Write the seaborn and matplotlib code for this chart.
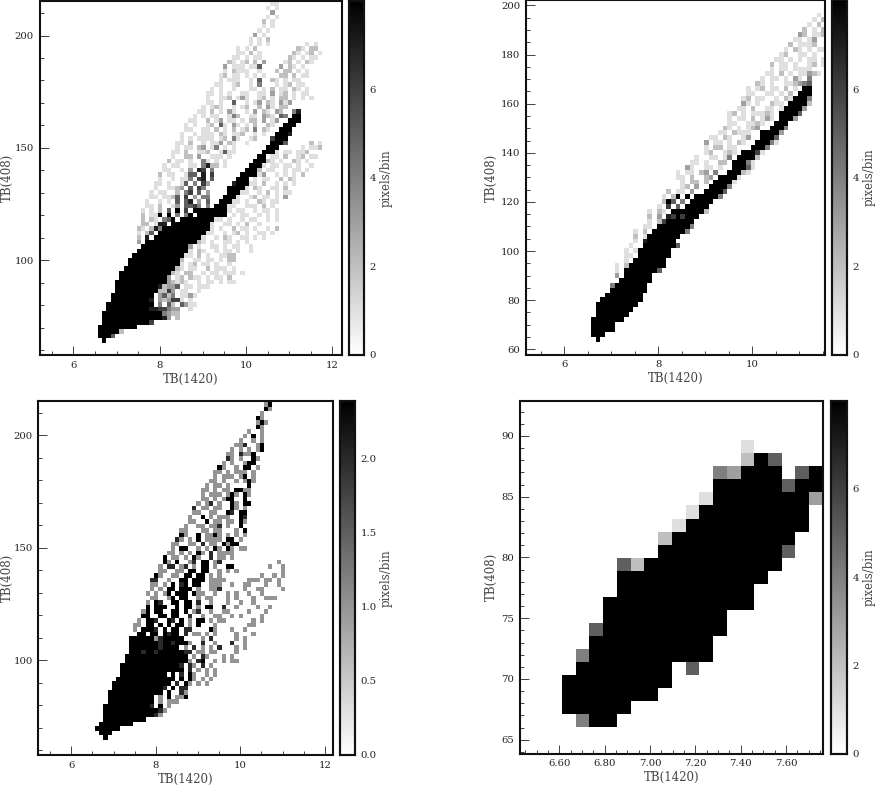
import numpy as np
import pandas as pd
import matplotlib
matplotlib.use("Agg")
import matplotlib.pyplot as plt
from matplotlib.ticker import MultipleLocator, FixedLocator
import seaborn as sns

# Histogram counts, one string per y bin from the bottom up: "first_column:levels|..."
p1_rows = [
"1:8","0:8885","0:888882","0:888888888","1:888888888886",
"1:888888888888887|16:3 2","1:88888888888888|15:4322","2:8888888888|12:7766433|21:1",
"2:8888888888|12:8|14:4 52 531|22:1","3:888888888|12:7|14:323661 1","3:8888888888|14:3524|19:11 1|21:3",
"4:8888888888|14:2263|19:11|23:1","4:88888888887|15:2335|20:11|23:111",
"4:888888888888|16:32121  1 11 1 11","5:88888888888|16:3 12 211 1 11 2",
"5:888888888888|17:21 22  1 11 111 1","6:888888888888|18:21 11  2 111 1",
"7:888888888888|19:1 12 11 1  1","7:888888888888|19:2  11 11 1|30:22","8:888888888888|20:11 2 1  11 1|30:22",
"9:888888888888|21:1 21  1 11 1  1","10:88888888888|21:3 1  11 1 11  1","9:3|11:888888888888|23:21 1  11 1 1",
"9:2 7|13:88888888888|24:1  1 21  11 1 1","9:1 2|12:5 7|14:88888888888|25:11  1 12 1  11 1",
"9:21|12:2|13:74|15:88888888888|26:1 1  2 11 1  1 2","10:22 1|14:77 8|17:888888888|26:1  11 1 2  1",
"10:2 2|13:1 4|16:5|17:8 88888888|27:11 1  1 11  1 1","10:2 11|14:8|16:8|18:4 48|21:8 88888|27:888|31:1 11  1 1 1",
"10:1 1 2|14:2 5|18:8 6 84|23:8888|27:888|30:1 11  1 11 1","11:11 2  1|18:3 5 6|21:5 4 4|27:888|30:11  111 2 1",
"11:1  1 2|16:1 5 57 3 5|28:888|31:11 1  21 1|41:1","12:11  1|15:1 25 6 3 4|25:4|29:888|32:1  12 11 1|43:3",
"12:1 11  1|18:2 46 5 3|30:888|33:11  1 2 1 11","13:1  11 1|18:23 5 64|30:8888|34:1 21  11 2",
"13:11 1  11|20:5 4 63|31:7888|35:11 2  1 1 1","14:1  1 11|20:14 67 5|32:888|36:1 11  2 21",
"14:2 11  1|21:55 7 6|33:8888|37:13  1 1 1 2","15:11  1 1|21:3 76 4|34:888|37:2 11  1 11 1|46:1",
"15:1 11  1|22:1 47|26:22 1|35:888|38:1 11 11 1  1","16:2 11|21:1  41 4|27:1 1|36:888|39:21 1  21 1",
"17:1  1|20:22 3  13|27:11 1|37:88|40:11 2  12 11","17:11 2  1|24:12  15 1|30:1|38:888|41:1 11  1|46:1 2",
"18:1 11  1|23:23 14|29:1 1|39:888|47:1 1|50:122","18:11 2  1|24:1 1|27:13 21|34:1|40:8885|49:2 11",
"19:1 1 111|26:1|28:12 41  1|36:2|40:6888","19:1  1 1|24:111 21 1|32:12|36:1 1|41:8887",
"20:11  1|25:1 2 1 3|31:2 1|33:12 4|38:21|42:888","20:1 1  1|25:12 51|31:31 1|36:2  21|43:888",
"21:11  2 1|28:3 11|33:1 22|38:3 1|41:3|44:888","22:1 1 1|26:11  1|31:42|35:11 3|39:21|42:54|45:88",
"23:11|26:2 1 31|31:1  1|36:3|38:21 3|42:2|45:47","24:1 1|27:21  1|33:12|37:2 31 2|43:2",
"25:11|28:1  1|31:5|34:1 1|37:3|39:21 3|43:13","25:1  11|30:2 1|33:31|37:12 1 22 1 1 1",
"25:11 1|30:1  1|34:1|37:11|40:3|42:12 1 11","26:1 1  2|31:1|35:11|38:1|40:2|42:11 21 1",
"27:11|31:12|35:1 1|37:4|41:1 12 11","28:1 11|32:1|35:1|37:5|40:21 1 11",
"28:12|31:11 1|36:1|38:1|42:22 2 11","29:1 21|33:11|37:1|41:2 22 1 1",
"29:3 11|33:1 1|36:15|42:3 21 1|47:1","30:21|33:12|36:2 3|43:12 1 21",
"31:11|34:1 1|37:1|44:21 1 11|49:1","32:11 2|37:1|45:21 12 1","32:1 1|36:2|46:21 22 1",
"35:1 1 1|48:1 1","35:1 1 2","36:3 1","37:1 1","38:1 1","38:2 1","39:1 1","40:3","39:1 1","40:11",
]
p2_rows = [
"1:8","0:888","0:88888","0:88888","0:8888888","1:8888888","1:88888888","1:888888888","2:888888888",
"3:88888888","4:88888888","4:4|5:8888888","6:8888888","5:3|7:888888","5:1 2|7:8888888|14:5",
"5:1 2|8:88888888","7:1|9:8888888","7:11 3|10:8888888","7:1|9:1|10:8888888","8:1|11:8888888|18:5",
"9:1 1|11:7888888","9:2 11|12:8888888","9:1 2|13:8888888|20:4","11:11|14:8888888|21:4","12:1 2|15:6888888",
"12:2 3|16:7686888","12:1 2|15:1|17:8888888|24:2","14:1|16:6 5 6|20:88888","15:2|16:8|17:5 4 8|21:88888",
"15:1 2|18:8 8|22:88888|27:4","16:2 1|19:1 3|24:8888|28:5","19:12 3|25:8888|29:4","19:1 22 2|26:8888|30:1",
"18:11 2  23|27:8888|31:1","18:1 11 2  1|24:3|26:4|29:888|32:21","20:31  1|24:11|27:1|30:888|33:51",
"21:11 1  12|27:2|30:888|33:41","22:1  1|25:11 1|29:4|31:8888|35:2","24:12  1 1|29:2|32:8886|36:1",
"24:1 22 1|29:11|34:888|37:4","24:3 11 1|29:1 21|35:888|38:41","25:11|28:21  1|33:3|36:888|39:5",
"27:11 2 1|31:1|33:1|36:8888|40:3","28:21 1  2|33:1 3|38:888|41:4","29:11  11|35:21|39:888",
"29:1 11 2 1 1|37:3|40:888|43:3","29:12 1 11 2|36:1 1|40:8888|44:5","31:11 2  11 1|38:1|41:8888|45:3",
"32:31 1  21|39:11|42:8888|46:2","32:12 11  1 21 1 1|43:888|46:4","33:11  11 1 2 1 1|44:888",
"33:1 12 11 2 1 1|45:88","35:21 1  1 2|41:11 3|45:45","36:1 11 1 11|43:31|46:4",
"37:11 2 1 11 21|46:3","38:1 11 1 1|44:1|46:1","38:2 11 1  11 1|47:2","39:11 1 2|44:1 11 1",
"40:12  11|45:1 1","41:1 21 1 11 1","42:2 11 1|46:12","43:11 1|47:3","44:32 1|48:12",
"45:2 1 2 2 2","46:1 2 2 1","47:1 2 2","48:1 1",
]
p3_rows = [
"2:3","1:333","0:333333","1:33333333","2:3333333333","2:333333333333|14:21","2:3333333333333|15:21",
"2:33333333333|13:2 3 2|17:1","3:3333333333|13:3 1 3|17:111","3:33333333333|15:1 3 3|19:111|21:3",
"3:333333333333|15:3 3|20:2|21:1","4:333333333333|16:2 3 2|21:2","4:3333333333333|17:3 2 3|22:1|24:1 1",
"5:3333333333333|18:3 3 3|23:1 1 1|27:1","6:3333333333|16:3|18:3 2 3|23:1|26:1 1",
"6:33333333333333|20:3 2 2|24:1 1|28:1","6:33333333333333|20:2 2|23:1 2|27:1",
"7:333333333333333|22:1 2|25:3|28:1 1 11","7:33333333333333|21:3 2|23:1 2|26:1|30:1|32:1",
"8:33323323333332|22:2 1|25:1 1|28:1|33:1","8:333333323333|21:1|23:2 1 1 2|33:1|35:1",
"8:33333332332333|22:1|25:2|28:1|32:2|35:1","8:3333331233333|25:1 2|33:1 1",
"10:33 33 3|16:3233|21:2|23:11 1|28:1|33:1|37:1","9:1|11:3332 3 3|18:33|21:22|27:31|32:1|35:1",
"9:11 2|12:33 3|17:3 33|22:1 3|28:1|36:11","10:1 3|13:32|17:32 3|22:1|24:33|27:1|29:11|37:1|39:1",
"11:33|15:33 3|19:3|22:2|25:1|28:11|32:1|34:1|39:1","11:13 3|15:3|18:33 3|23:12|27:1|30:11|36:1|40:1",
"12:3 3|15:33|19:3 33|24:1|26:33|30:2|33:1|38:1|41:1","12:1|14:32|18:33 33|24:2|27:1|31:1|34:1|37:1",
"13:11|17:13 33|24:1|26:11|31:1|33:1|37:1|40:11|42:1","12:1|14:1|16:13|19:333 3|24:11|28:1|31:1|33:1|36:1|39:1",
"13:1 1|17:33|20:333|24:1|27:11|29:2|35:1|38:11|44:1","13:11|16:1|18:3|20:23 33|27:11|29:1|32:1|35:11|40:1|43:1",
"13:22|17:1|20:33 333|27:11|29:11|36:11|38:1|40:11 1","14:31|18:11|21:33 33|27:1|29:1|39:1|42:1|44:1",
"15:11|19:11|22:33 33|29:1|31:1|33:1|44:1","15:1|17:22|20:12 1|25:33 3|28:1|31:33|41:1|44:1",
"16:31|19:3|22:12 1|25:33|28:12|43:1","16:3|18:11|21:1|23:31|27:2|29:11 1","17:11|20:1 1|24:31 2 11|31:11",
"18:1|20:33|24:1|26:1|28:31 3|32:1|34:11","18:11|22:11 2|27:11 31|32:33","19:21|22:1 3 1|27:11|29:1|31:33|34:1",
"20:31|24:3 11|28:31|31:1|33:1|35:1","20:11|25:11 1|28:11|33:1|35:3","21:1|24:11 11|29:2|31:1|34:3",
"22:11|26:3|28:11|31:11|34:31","22:1|25:3|27:1 11|31:1|34:32",
"23:11|27:11|31:32 3|35:3","23:2|25:11|28:11|32:31|35:1","24:1|26:12|29:1|32:31 3|36:3",
"25:11|28:1 1|31:33|35:3","25:1 11|29:1 1|32:31|35:31","25:11 1 1|30:11|33:33|35:11",
"26:1 11 2|31:1|36:3","27:11 1|33:1 1|36:31","28:1 1|31:11 1|35:3|37:1","28:11 1 1|33:11|35:1|37:1",
"29:31|33:1|35:33|38:1","30:1 1|35:1|36:33","31:21|34:1|37:31","31:11 2|35:11|37:3","32:1 1|36:1|38:13",
"33:11|35:2|38:1|39:3","34:1|37:1|39:1","35:1|37:3|39:1","36:1|39:1","38:31","38:1|39:31","38:31","39:1","40:31","40:1|41:3",
]
p4_rows = [
"1:4|2:88","0:88888","0:8888888","0:88888888","1:8888888|9:5","1:4|2:888888888","2:888888888",
"2:5|3:888888888","3:888888888","3:88888888888","4:8888888888","4:88888888888",
"4:5|5:2|6:8888888888","7:888888888|16:5","7:2|8:888888888","8:1|9:888888888","9:1|10:88888888",
"10:1|11:8888888|18:3","11:88888|16:5|17:88","11:4|12:3|13:888|17:5|18:8","13:2|14:8|15:5","13:1",
]

x_labels = "TB(1420)"
y_labels = "TB(408)"
bar_label = "pixels/bin"

W, H = 876, 785
sns.set_theme(style="ticks", rc={"font.family": "DejaVu Serif", "text.color": "#444444",
                                 "axes.labelcolor": "#444444", "xtick.labelcolor": "#222222",
                                 "ytick.labelcolor": "#222222"})
fig = plt.figure(figsize=(W / 100, H / 100), dpi=100)


def rect(l, t, r, b):
    return [l / W, 1 - b / H, (r - l) / W, (b - t) / H]


def frame(rows, x0, dx, y0, dy):
    xs, ys, ws = [], [], []
    for r, row in enumerate(rows):
        cells = {}
        for seg in row.split("|"):
            first, levels = seg.split(":")
            for k, ch in enumerate(levels):
                if ch != " ":
                    cells[int(first) + k] = int(ch)
        for c, v in cells.items():
            xs.append(x0 + (c + .5) * dx)
            ys.append(y0 + (r + .5) * dy)
            ws.append(v)
    return pd.DataFrame({"x": xs, "y": ys, "w": ws})


def panel(rows, box, cbox, grid, xlim, ylim, xmaj, xmin, ymaj, ymin, vmax, cmaj, cmin, fmt,
          ylab_x, clab_x, xfmt=None):
    x0, dx, y0, dy, nx, ny = grid
    df = frame(rows, x0, dx, y0, dy)
    ax = fig.add_axes(rect(*box))
    cax = fig.add_axes(rect(*cbox))
    xe = x0 + dx * np.arange(nx + 1)
    ye = y0 + dy * np.arange(ny + 1)
    sns.histplot(df, x="x", y="y", weights="w", bins=[xe, ye], cmap="gray_r", vmin=0, vmax=vmax,
                 cbar=True, cbar_ax=cax, ax=ax)
    ax.set_xlim(*xlim)
    ax.set_ylim(*ylim)
    ax.xaxis.set_major_locator(MultipleLocator(xmaj))
    ax.xaxis.set_minor_locator(MultipleLocator(xmin))
    ax.yaxis.set_major_locator(MultipleLocator(ymaj))
    ax.yaxis.set_minor_locator(MultipleLocator(ymin))
    if xfmt:
        ax.xaxis.set_major_formatter(xfmt)
    ax.tick_params(which="major", direction="in", length=6.5, width=.6, labelsize=7.3, pad=4, color="#222222")
    ax.tick_params(which="minor", direction="in", length=3.2, width=.6, color="#222222")
    w = box[2] - box[0]
    h = box[3] - box[1]
    ax.set_xlabel(x_labels, fontsize=8.5, va="center")
    ax.set_ylabel(y_labels, fontsize=8.5, va="center")
    ax.xaxis.set_label_coords(.5, -24 / h)
    ax.yaxis.set_label_coords((ylab_x - box[0]) / w, .5)
    for s in ax.spines.values():
        s.set_visible(True)
        s.set_linewidth(1.5)
        s.set_color("#111111")
    cax.yaxis.set_major_locator(FixedLocator(cmaj))
    cax.yaxis.set_major_formatter(fmt)
    if cmin:
        cax.yaxis.set_minor_locator(MultipleLocator(cmin))
    cax.yaxis.tick_right()
    cax.tick_params(which="major", direction="in", length=5.5, width=.6, labelsize=7.3, pad=4, color="#555555")
    cax.tick_params(which="minor", direction="in", length=3, width=.6, color="#555555")
    cax.set_ylabel(bar_label, fontsize=8.5, rotation=90)
    cax.yaxis.set_label_position("right")
    cax.yaxis.label.set_verticalalignment("center")
    cax.yaxis.set_label_coords((clab_x - cbox[0]) / (cbox[2] - cbox[0]), .5)
    for s in cax.spines.values():
        s.set_visible(True)
        s.set_linewidth(1.5)
        s.set_color("#111111")


panel(p1_rows, (39.5, 0.5, 341.5, 355), (349, 0.5, 364, 355), (6.564, .1, 63.2, 2, 52, 76),
      (5.217, 12.21), (57.8, 215.6), 2, .5, 50, 10, 8, [0, 2, 4, 6], .5, "{x:.0f}", 7, 386)
panel(p2_rows, (526, 0.5, 825, 354.7), (831.7, 0.5, 847.3, 354.7), (6.57, .1, 63.1, 2, 50, 67),
      (5.185, 11.55), (57.8, 202), 2, .5, 20, 5, 8, [0, 2, 4, 6], .5, "{x:.0f}", 491.7, 869.5)
panel(p3_rows, (38.3, 400.7, 333.3, 755), (340, 400.7, 355.3, 755), (6.56, .1, 64.7, 2, 50, 76),
      (5.22, 12.2), (57.9, 215.4), 2, .5, 50, 10, 2.39, [0, .5, 1, 1.5, 2], None, "{x:.1f}", 7, 386)
panel(p4_rows, (520, 400.7, 823.3, 753.7), (831.3, 400.7, 847.3, 753.7), (6.612, .0606, 66.05, 1.0722, 19, 22),
      (6.427, 7.765), (63.85, 92.9), .2, .05, 5, 1, 8, [0, 2, 4, 6], .5, "{x:.0f}", 491.7, 869.5, xfmt="{x:.2f}")

fig.savefig("out.png", dpi=100)
